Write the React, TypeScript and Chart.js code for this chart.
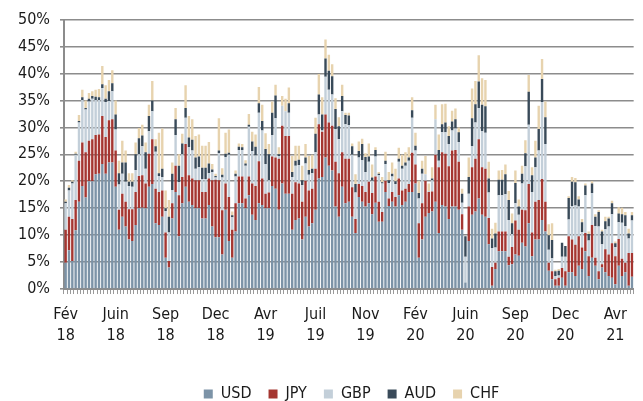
import { useEffect, useRef } from 'react';
import { Chart, registerables } from 'chart.js';

Chart.register(...registerables);

// Weekly share per currency (% of total), one value per week from Feb 2018.
const USD = [
  4.9, 7.2, 5.2, 10.9, 16.2, 19.1, 17.0, 20.0, 20.0, 21.3,
  21.4, 23.2, 21.4, 23.5, 23.5, 19.0, 11.0, 13.4, 11.6, 9.2,
  8.9, 11.9, 15.0, 15.1, 15.0, 19.0, 19.5, 12.2, 11.9, 13.4,
  5.8, 4.0, 13.1, 18.0, 9.8, 15.9, 19.0, 16.2, 15.6, 15.0,
  15.0, 13.1, 13.1, 15.6, 11.6, 9.6, 9.6, 6.4, 14.7, 8.9,
  5.8, 10.7, 15.9, 15.9, 15.0, 17.4, 13.8, 12.8, 15.9, 15.6,
  15.0, 15.0, 19.1, 18.6, 14.7, 19.6, 17.7, 17.7, 11.0, 12.8,
  13.1, 9.2, 13.4, 11.6, 12.2, 14.7, 20.5, 20.8, 24.4, 22.9,
  22.0, 15.3, 13.4, 19.0, 15.9, 16.2, 13.4, 10.4, 17.1, 16.2,
  15.3, 15.9, 13.9, 16.0, 12.5, 12.5, 18.0, 15.4, 16.2, 15.3,
  17.4, 15.6, 16.2, 18.0, 18.0, 19.6, 5.8, 9.2, 13.4, 14.1,
  14.4, 16.2, 10.4, 15.6, 15.3, 13.0, 15.3, 15.3, 14.7, 11.0,
  1.2, 8.9, 13.8, 14.4, 16.8, 13.8, 13.4, 8.3, 0.6, 3.7,
  7.0, 7.0, 7.0, 4.4, 4.6, 6.4, 6.2, 8.6, 7.9, 12.2,
  6.1, 9.2, 9.2, 12.8, 10.7, 3.4, 1.8, 0.6, 0.6, 2.1,
  0.6, 3.1, 3.1, 2.4, 4.3, 3.7, 7.0, 2.4, 5.8, 4.3,
  1.8, 4.0, 3.1, 2.4, 2.1, 0.9, 4.3, 2.4, 3.1, 0.6,
  2.3,
];

const JPY = [
  6.1, 6.2, 7.8, 5.6, 7.6, 8.1, 8.4, 7.5, 7.8, 7.3,
  7.3, 8.9, 6.8, 7.8, 8.0, 6.7, 3.7, 4.3, 4.6, 5.6,
  5.9, 6.1, 6.0, 6.0, 4.6, 6.1, 8.3, 6.4, 6.1, 4.9,
  4.7, 1.2, 2.8, 4.9, 7.6, 4.9, 7.9, 4.9, 4.9, 5.2,
  5.2, 4.9, 4.9, 4.9, 8.6, 10.7, 10.6, 8.2, 4.9, 8.2,
  5.2, 5.2, 5.0, 5.0, 1.8, 3.5, 5.8, 6.3, 7.8, 4.9,
  2.7, 2.9, 5.5, 5.8, 9.5, 10.7, 10.7, 10.7, 6.7, 7.0,
  6.5, 7.0, 6.7, 6.7, 6.4, 7.6, 10.1, 8.4, 8.0, 8.0,
  8.3, 8.3, 8.1, 6.4, 8.3, 8.0, 5.5, 2.6, 2.4, 2.9,
  2.7, 4.0, 3.9, 4.9, 3.7, 1.8, 2.1, 1.4, 1.8, 1.8,
  3.1, 2.7, 2.4, 1.5, 7.3, 3.5, 6.4, 6.7, 6.7, 3.9,
  3.7, 8.7, 12.2, 9.8, 9.8, 9.8, 10.4, 10.5, 8.9, 2.9,
  0.0, 6.4, 8.8, 9.8, 11.0, 8.8, 8.9, 4.9, 3.5, 1.2,
  3.7, 3.7, 3.7, 1.6, 3.2, 6.3, 4.8, 6.1, 6.7, 7.3,
  4.4, 7.0, 7.3, 7.6, 5.5, 1.5, 1.5, 1.2, 1.5, 1.8,
  2.7, 6.7, 6.1, 5.8, 5.5, 4.0, 3.4, 3.7, 6.1, 1.5,
  1.5, 0.6, 4.3, 4.0, 6.4, 5.2, 5.0, 3.2, 1.8, 6.1,
  4.4,
];

const GBP = [
  4.9, 4.9, 6.6, 8.4, 7.1, 7.9, 7.9, 7.3, 7.5, 6.5,
  6.4, 5.2, 6.5, 3.6, 5.2, 3.9, 4.7, 3.7, 3.7, 4.3,
  4.2, 4.1, 4.0, 5.4, 2.7, 4.2, 5.2, 6.9, 3.0, 2.5,
  4.0, 5.3, 2.5, 5.7, 2.4, 4.2, 4.9, 5.2, 5.2, 2.1,
  2.4, 2.4, 2.4, 1.0, 1.5, 0.4, 5.0, 6.1, 4.9, 7.8,
  2.3, 5.0, 4.9, 4.9, 6.1, 9.2, 6.0, 5.7, 9.0, 8.9,
  5.5, 2.3, 4.0, 7.3, 0.5, 3.7, 4.6, 4.3, 3.1, 3.1,
  3.4, 3.1, 3.2, 2.9, 2.9, 3.1, 1.8, 0.2, 7.0, 6.1,
  5.8, 6.1, 6.3, 7.6, 6.4, 6.2, 6.0, 4.9, 4.9, 4.8,
  3.7, 3.7, 2.3, 3.7, 4.9, 5.3, 3.1, 2.9, 2.9, 2.4,
  3.1, 4.0, 4.3, 4.3, 6.5, 2.6, 4.6, 5.5, 1.2, 0.2,
  2.1, 6.6, 1.2, 3.7, 4.0, 4.1, 3.7, 4.0, 3.7, 2.1,
  4.8, 2.4, 3.9, 6.7, 5.8, 6.7, 6.7, 4.7, 3.5, 2.8,
  6.7, 6.7, 6.9, 6.8, 2.4, 3.2, 2.8, 4.9, 8.2, 11.0,
  7.5, 6.4, 9.2, 14.3, 10.7, 2.4, 2.4, 0.6, 0.4, 2.1,
  2.7, 3.1, 6.2, 7.3, 5.5, 2.9, 7.0, 2.9, 5.9, 5.9,
  8.3, 3.7, 3.7, 5.2, 5.4, 1.7, 3.1, 6.7, 6.8, 2.7,
  6.0,
];

const AUD = [
  0.3, 0.5, 0.3, 0.2, 0.3, 0.5, 0.3, 0.5, 0.5, 0.6,
  0.5, 0.7, 0.6, 1.8, 1.5, 2.8, 2.1, 2.1, 3.6, 0.8,
  0.9, 2.9, 3.0, 2.0, 3.1, 2.8, 2.0, 1.0, 0.5, 1.5,
  0.5, 2.9, 3.0, 2.9, 3.1, 2.0, 1.8, 1.8, 2.0, 2.1,
  2.0, 2.1, 2.1, 1.8, 0.5, 0.3, 0.5, 0.5, 0.6, 0.4,
  0.4, 0.5, 0.6, 0.5, 0.4, 0.4, 1.8, 1.6, 1.8, 1.8,
  2.8, 4.8, 4.1, 4.2, 0.3, 0.0, 0.0, 1.8, 0.9, 0.9,
  1.0, 0.9, 1.1, 0.9, 0.8, 3.4, 3.7, 3.0, 3.4, 3.5,
  3.4, 3.7, 2.4, 2.8, 1.7, 1.8, 1.6, 1.6, 1.2, 3.0,
  2.8, 1.0, 0.6, 1.2, 0.3, 0.2, 0.6, 0.5, 0.5, 0.5,
  0.6, 0.6, 0.6, 0.6, 1.4, 0.9, 1.0, 0.9, 0.0, 0.0,
  0.3, 0.0, 2.0, 1.5, 1.8, 1.5, 1.7, 1.7, 1.8, 1.7,
  3.8, 3.1, 5.2, 3.4, 4.9, 4.9, 4.9, 2.6, 1.8, 2.6,
  2.9, 2.9, 3.7, 3.7, 2.0, 3.8, 1.5, 1.8, 2.4, 6.1,
  3.1, 1.8, 4.0, 4.3, 5.0, 2.7, 3.4, 0.9, 0.9, 2.6,
  2.0, 4.0, 4.5, 4.3, 1.3, 1.8, 1.8, 1.2, 1.8, 1.7,
  2.7, 2.4, 1.5, 1.5, 2.0, 0.7, 1.6, 1.6, 2.0, 0.9,
  1.0,
];

const CHF = [
  0.4, 0.5, 0.3, 0.4, 1.1, 1.4, 1.4, 1.1, 0.9, 1.3,
  1.5, 3.4, 2.5, 2.1, 2.4, 2.6, 2.3, 4.0, 2.2, 1.6,
  1.6, 2.2, 1.9, 2.0, 1.8, 2.1, 3.6, 1.3, 7.5, 7.5,
  3.3, 3.1, 2.1, 2.1, 2.1, 1.8, 4.2, 4.0, 3.8, 4.0,
  4.1, 4.1, 4.1, 4.0, 1.0, 0.4, 6.0, 1.2, 3.9, 4.3,
  0.7, 0.6, 0.6, 0.6, 0.6, 2.0, 1.8, 2.3, 3.0, 3.0,
  2.9, 1.9, 2.1, 2.0, 1.3, 1.8, 2.3, 2.9, 3.0, 2.8,
  2.6, 2.7, 2.5, 2.6, 2.6, 3.0, 3.8, 3.2, 3.5, 3.0,
  2.2, 2.0, 1.7, 2.1, 0.4, 0.5, 0.5, 1.8, 1.8, 1.0,
  0.7, 2.4, 2.4, 0.5, 0.3, 1.0, 1.7, 1.5, 2.1, 2.3,
  2.0, 2.0, 1.9, 1.9, 2.4, 2.4, 2.3, 1.5, 3.4, 1.4,
  2.1, 2.7, 2.9, 3.7, 3.5, 1.8, 2.0, 2.0, 0.9, 0.9,
  0.0, 3.6, 5.5, 4.3, 4.9, 4.9, 4.9, 3.1, 1.8, 2.0,
  1.7, 1.8, 1.8, 1.7, 1.8, 2.3, 1.3, 1.5, 2.4, 3.1,
  1.5, 3.1, 4.3, 3.7, 2.9, 2.0, 3.1, 0.3, 0.3, 0.0,
  0.0, 0.3, 0.9, 0.8, 0.6, 0.6, 0.4, 0.5, 0.4, 0.5,
  0.3, 0.3, 0.8, 0.3, 0.5, 0.3, 1.2, 1.2, 0.6, 0.9,
  0.6,
];

// One axis label every 15 weeks, starting at the first week.
const TICK_LABELS = [
  'Fév 18', 'Juin 18', 'Sep 18', 'Dec 18', 'Avr 19', 'Juil 19',
  'Nov 19', 'Fév 20', 'Juin 20', 'Sep 20', 'Dec 20', 'Avr 21',
];
const TICK_EVERY = 15;

const FONT = "'DejaVu Sans Condensed', 'Liberation Sans Narrow', 'DejaVu Sans', sans-serif";
const GRID = '#8c8c8c';

// Nudge the legend to where the reference puts it.
const legendShift = {
  id: 'legendShift',
  afterLayout(chart: Chart) {
    const lg = (chart as any).legend;
    if (!lg) return;
    lg.left += 26;
    lg.right += 26;
    lg.top += 12;
    lg.bottom += 12;
  },
};

export default function App() {
  const canvasRef = useRef<HTMLCanvasElement>(null);

  useEffect(() => {
    if (!canvasRef.current) return;
    const labels = USD.map((_, i) => String(i));
    const ds = (label: string, data: number[], color: string) => ({
      label,
      data,
      backgroundColor: color,
      borderWidth: 0,
      barPercentage: 0.72,
      categoryPercentage: 1,
      stack: 'fx',
    });

    const chart = new Chart(canvasRef.current, {
      type: 'bar',
      data: {
        labels,
        datasets: [
          ds('USD', USD, '#7c93a7'),
          ds('JPY', JPY, '#a53631'),
          ds('GBP', GBP, '#c3cfd9'),
          ds('AUD', AUD, '#394a59'),
          ds('CHF', CHF, '#e7d3ae'),
        ],
      },
      options: {
        animation: false,
        responsive: true,
        maintainAspectRatio: false,
        layout: { padding: { top: 4, left: 8, right: 0, bottom: 1 } },
        plugins: {
          legend: {
            position: 'bottom',
            labels: {
              boxWidth: 9,
              boxHeight: 9,
              padding: 17,
              color: '#1a1a1a',
              font: { family: FONT, size: 16 },
            },
          },
          tooltip: { enabled: false },
        },
        scales: {
          x: {
            stacked: true,
            border: { color: GRID, width: 2 },
            grid: { drawOnChartArea: false, drawTicks: true, tickLength: 5, color: '#9a9a9a', lineWidth: 1 },
            ticks: {
              autoSkip: false,
              maxRotation: 0,
              minRotation: 0,
              padding: 11,
              color: '#1a1a1a',
              font: { family: FONT, size: 16, lineHeight: 1.28 },
              callback: (_v, i) => (i % TICK_EVERY === 0 && TICK_LABELS[i / TICK_EVERY]
                ? TICK_LABELS[i / TICK_EVERY].split(' ')
                : ''),
            },
          },
          y: {
            stacked: true,
            min: 0,
            max: 50,
            z: 1,
            border: { color: GRID, width: 2 },
            grid: { color: GRID, lineWidth: 1.6, tickLength: 4 },
            ticks: {
              stepSize: 5,
              padding: 10,
              color: '#1a1a1a',
              font: { family: FONT, size: 16 },
              callback: (v) => `${v}%`,
            },
          },
        },
      },
      plugins: [legendShift],
    });
    return () => { chart.destroy(); };
  }, []);

  return (
    <div style={{ position: 'fixed', left: 0, top: 0, width: 643, height: 401, background: '#fff' }}>
      <canvas ref={canvasRef} />
    </div>
  );
}
